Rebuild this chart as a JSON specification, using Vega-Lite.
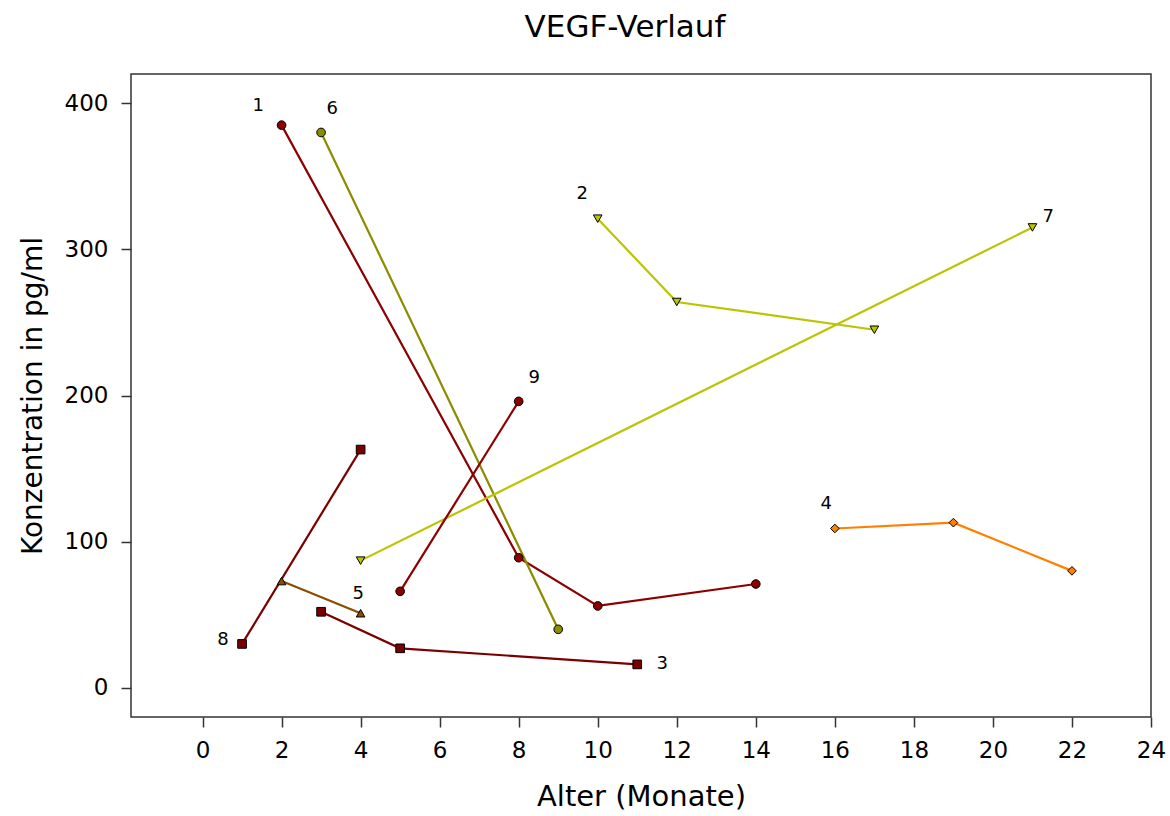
{
  "$schema": "https://vega.github.io/schema/vega-lite/v6.json",
  "width": 1020,
  "height": 643,
  "autosize": {"type": "none"},
  "padding": {"left": 131, "top": 74, "right": 19, "bottom": 99},
  "background": "white",
  "title": {"text": "VEGF-Verlauf", "font": "DejaVu Sans", "fontSize": 31, "fontWeight": "normal", "color": "black", "anchor": "middle", "offset": 30, "dx": -16},
  "config": {
    "view": {"stroke": "#333333", "strokeWidth": 1.5},
    "axis": {"grid": false, "domain": false, "tickColor": "#333333", "tickSize": 10, "tickWidth": 1.5,
             "labelFont": "DejaVu Sans", "labelFontSize": 23, "labelColor": "black", "labelFlush": false,
             "titleFont": "DejaVu Sans", "titleFontSize": 28, "titleFontWeight": "normal", "titleColor": "black"}
  },
  "datasets": {
    "pts": [
      {"id": "1", "alter": 2, "vegf": 385},
      {"id": "1", "alter": 8, "vegf": 89},
      {"id": "1", "alter": 10, "vegf": 56},
      {"id": "1", "alter": 14, "vegf": 71},
      {"id": "2", "alter": 10, "vegf": 321},
      {"id": "2", "alter": 12, "vegf": 264},
      {"id": "2", "alter": 17, "vegf": 245},
      {"id": "3", "alter": 3, "vegf": 52},
      {"id": "3", "alter": 5, "vegf": 27},
      {"id": "3", "alter": 11, "vegf": 16},
      {"id": "4", "alter": 16, "vegf": 109},
      {"id": "4", "alter": 19, "vegf": 113},
      {"id": "4", "alter": 22, "vegf": 80},
      {"id": "5", "alter": 2, "vegf": 73},
      {"id": "5", "alter": 4, "vegf": 51},
      {"id": "6", "alter": 3, "vegf": 380},
      {"id": "6", "alter": 9, "vegf": 40},
      {"id": "7", "alter": 4, "vegf": 87},
      {"id": "7", "alter": 21, "vegf": 315},
      {"id": "8", "alter": 1, "vegf": 30},
      {"id": "8", "alter": 4, "vegf": 163},
      {"id": "9", "alter": 5, "vegf": 66},
      {"id": "9", "alter": 8, "vegf": 196}
    ],
    "labels": [
      {"id": "1", "alter": 1.41, "vegf": 398},
      {"id": "2", "alter": 9.61, "vegf": 338},
      {"id": "3", "alter": 11.63, "vegf": 16},
      {"id": "4", "alter": 15.78, "vegf": 125.5},
      {"id": "5", "alter": 3.94, "vegf": 64},
      {"id": "6", "alter": 3.28, "vegf": 396},
      {"id": "7", "alter": 21.4, "vegf": 322},
      {"id": "8", "alter": 0.52, "vegf": 32.5},
      {"id": "9", "alter": 8.39, "vegf": 212}
    ]
  },
  "layer": [
    {
      "data": {"name": "pts"},
      "mark": {"type": "line", "strokeWidth": 2.2},
      "encoding": {
        "x": {"field": "alter", "type": "quantitative", "title": "Alter (Monate)",
              "scale": {"domain": [-1.81, 24], "nice": false, "zero": false},
              "axis": {"values": [0, 2, 4, 6, 8, 10, 12, 14, 16, 18, 20, 22, 24], "labelPadding": 12, "titlePadding": 20, "titleFontSize": 29}},
        "y": {"field": "vegf", "type": "quantitative", "title": "Konzentration in pg/ml",
              "scale": {"domain": [-20, 420], "nice": false, "zero": false},
              "axis": {"values": [0, 100, 200, 300, 400], "labelPadding": 13, "titlePadding": 17}},
        "color": {"field": "id", "type": "nominal", "legend": null,
                  "scale": {"domain": ["1", "2", "3", "4", "5", "6", "7", "8", "9"],
                            "range": ["#8B0000", "#BCC400", "#7A0000", "#FF7F00", "#8B4C00", "#8B8B00", "#BCC400", "#7A0000", "#8B0000"]}},
        "detail": {"field": "id"},
        "order": {"field": "alter", "type": "quantitative"}
      }
    },
    {
      "data": {"name": "pts"},
      "mark": {"type": "point", "filled": true, "stroke": "black", "strokeWidth": 1, "opacity": 1, "size": 75},
      "encoding": {
        "x": {"field": "alter", "type": "quantitative"},
        "y": {"field": "vegf", "type": "quantitative"},
        "fill": {"field": "id", "type": "nominal", "legend": null,
                 "scale": {"domain": ["1", "2", "3", "4", "5", "6", "7", "8", "9"],
                           "range": ["#8B0000", "#BCC400", "#7A0000", "#FF7F00", "#8B4C00", "#8B8B00", "#BCC400", "#7A0000", "#8B0000"]}},
        "shape": {"field": "id", "type": "nominal", "legend": null,
                  "scale": {"domain": ["1", "2", "3", "4", "5", "6", "7", "8", "9"],
                            "range": ["circle", "triangle-down", "square", "diamond", "triangle-up", "circle", "triangle-down", "square", "circle"]}}
      }
    },
    {
      "data": {"name": "labels"},
      "mark": {"type": "text", "font": "DejaVu Sans", "fontSize": 18, "color": "black", "align": "center", "baseline": "middle"},
      "encoding": {
        "x": {"field": "alter", "type": "quantitative"},
        "y": {"field": "vegf", "type": "quantitative"},
        "text": {"field": "id"}
      }
    }
  ]
}
